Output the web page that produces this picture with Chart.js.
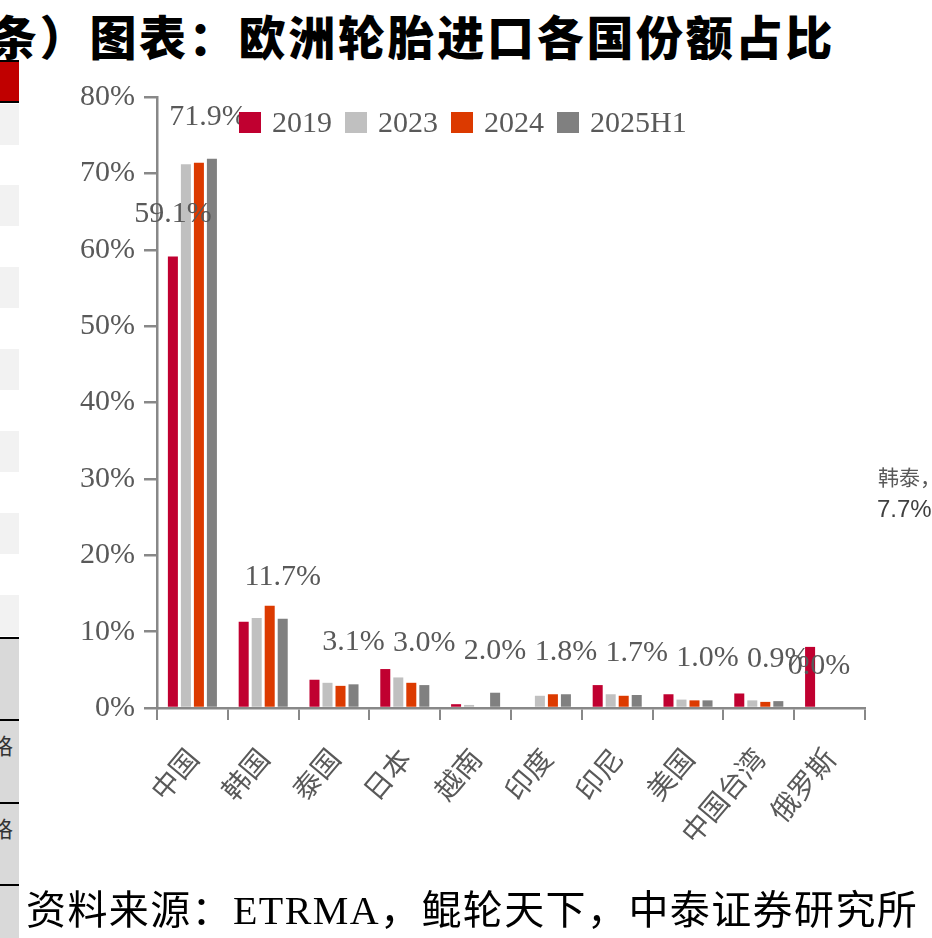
<!DOCTYPE html>
<html>
<head>
<meta charset="utf-8">
<script src="https://cdn.jsdelivr.net/npm/chart.js@4.4.1/dist/chart.umd.min.js"></script>
<style>
  html, body { margin: 0; padding: 0; background: #fff; }
  body { width: 932px; height: 938px; position: relative; overflow: hidden; }
  #title {
    position: absolute; left: -10px; top: 0px; white-space: nowrap;
    font: 900 47px "Noto Sans CJK SC", sans-serif; color: #000; letter-spacing: 2.7px;
  }
  #source {
    position: absolute; left: 26px; top: 878px; white-space: nowrap;
    font: 40px "Liberation Serif", "Noto Sans CJK SC", serif; color: #000; letter-spacing: 1.4px;
  }
  #side { position: absolute; left: 0; top: 0; width: 19px; height: 938px; overflow: hidden; }
  #side div { position: absolute; left: 0; width: 19px; }
  .light { background: #f2f2f2; height: 41px; }
  .line { background: #000; height: 2px; }
  .ch { font: 22px "Noto Sans CJK SC", sans-serif; color: #333; left: -9px !important; width: 40px !important; }
  #chart-box { position: absolute; left: 0; top: 0; width: 932px; height: 938px; }
  #frag1 { position: absolute; left: 878px; top: 461px; font: 21px "Noto Sans CJK SC", serif; color: #595959; white-space: nowrap; }
  #frag2 { position: absolute; left: 877px; top: 495px; font: 24px "Liberation Sans", Arial, sans-serif; color: #404040; white-space: nowrap; }
</style>
</head>
<body>
<div id="side">
  <div style="top:60px;height:43px;background:#c00000;border-top:2px solid #000;border-bottom:2px solid #000;box-sizing:border-box;"></div>
  <div class="light" style="top:104px"></div>
  <div class="light" style="top:185px"></div>
  <div class="light" style="top:267px"></div>
  <div class="light" style="top:349px"></div>
  <div class="light" style="top:431px"></div>
  <div class="light" style="top:513px"></div>
  <div class="light" style="top:595px"></div>
  <div style="top:638px;height:300px;background:#d9d9d9"></div>
  <div class="line" style="top:637px"></div>
  <div class="line" style="top:719px"></div>
  <div class="line" style="top:802px"></div>
  <div class="line" style="top:884px"></div>
  <div class="ch" style="top:728px">格</div>
  <div class="ch" style="top:811px">格</div>
</div>
<div id="title">条）图表：欧洲轮胎进口各国份额占比</div>
<div id="chart-box"><canvas id="chart" width="932" height="938"></canvas></div>
<div id="frag1">韩泰，</div>
<div id="frag2">7.7%</div>
<div id="source">资料来源：ETRMA，鲲轮天下，中泰证券研究所</div>

<script>
document.addEventListener("DOMContentLoaded", () => {

// ─── Dados ───────────────────────────────────────────────────────────────────

const categories = ["中国", "韩国", "泰国", "日本", "越南", "印度", "印尼", "美国", "中国台湾", "俄罗斯"];
const seriesNames = ["2019", "2023", "2024", "2025H1"];

const v2019   = [59.1, 11.3, 3.7, 5.1, 0.5, 0.0, 3.0, 1.8, 1.9, 8.0];
const v2023   = [71.2, 11.8, 3.3, 4.0, 0.4, 1.6, 1.8, 1.1, 1.0, 0.0];
const v2024   = [71.4, 13.4, 2.9, 3.3, 0.0, 1.8, 1.6, 1.0, 0.8, 0.0];
const v2025H1 = [71.9, 11.7, 3.1, 3.0, 2.0, 1.8, 1.7, 1.0, 0.9, 0.0];

const yTicks = [0, 10, 20, 30, 40, 50, 60, 70, 80];

const colors = ["#c00030", "#c0c0c0", "#dc3a00", "#808080"];

// rótulos de valor mostrados (série, categoria)
const shownLabels = [
  { ds: 0, idx: 0 },
  ...categories.map((_, i) => ({ ds: 3, idx: i })),
];

// ─── Plugins ────────────────────────────────────────────────────────────────

const SERIF = '"Liberation Serif", "Times New Roman", serif';
const GREY  = "#595959";

const valueLabels = {
  id: "valueLabels",
  afterDatasetsDraw(chart) {
    const ctx = chart.ctx;
    ctx.save();
    ctx.font = "30px " + SERIF;
    ctx.fillStyle = GREY;
    ctx.textAlign = "center";
    ctx.textBaseline = "middle";
    shownLabels.forEach(({ ds, idx }) => {
      const bar = chart.getDatasetMeta(ds).data[idx];
      const val = chart.data.datasets[ds].data[idx];
      let dx = 0;
      if (ds === 3 && idx === 0) dx = -4;
      if (idx === categories.length - 1) dx = -30;
      ctx.fillText(val.toFixed(1) + "%", bar.x + dx, bar.y - 42);
    });
    ctx.restore();
  }
};

const legendInside = {
  id: "legendInside",
  afterDraw(chart) {
    const ctx = chart.ctx;
    ctx.save();
    ctx.font = "30px " + SERIF;
    ctx.textBaseline = "middle";
    let x = 239;
    const y = 123;
    chart.data.datasets.forEach(ds => {
      ctx.fillStyle = ds.backgroundColor;
      ctx.fillRect(x, y - 11, 22, 21);
      x += 33;
      ctx.fillStyle = GREY;
      ctx.fillText(ds.label, x, y + 1);
      x += ctx.measureText(ds.label).width + 13;
    });
    ctx.restore();
  }
};

// ─── Gráfico ────────────────────────────────────────────────────────────────

const allSeries = [v2019, v2023, v2024, v2025H1];

new Chart(document.getElementById("chart"), {
  type: "bar",
  data: {
    labels: categories,
    datasets: allSeries.map((vals, i) => ({
      label: seriesNames[i],
      data: vals,
      backgroundColor: colors[i],
      categoryPercentage: 0.735,
      barPercentage: 0.77,
    }))
  },
  options: {
    responsive: false,
    animation: false,
    layout: { padding: { top: 97, right: 67, left: 0, bottom: 0 } },
    plugins: {
      legend: { display: false },
      tooltip: { enabled: false },
    },
    scales: {
      x: {
        grid: {
          display: true, offset: true, drawOnChartArea: false, drawTicks: true,
          tickLength: 12, color: "#888", lineWidth: 2,
        },
        border: { display: true, color: "#888", width: 2.5 },
        ticks: {
          color: GREY, font: { size: 28, family: '"Noto Sans CJK SC", sans-serif' },
          maxRotation: 50, minRotation: 50, padding: 22, autoSkip: false,
        },
        afterFit(scale) { scale.height = 230; },
      },
      y: {
        min: 0, max: 80,
        afterBuildTicks(scale) { scale.ticks = yTicks.map(v => ({ value: v })); },
        grid: {
          display: true, drawOnChartArea: false, drawTicks: true,
          tickLength: 13, color: "#888", lineWidth: 2.5,
        },
        border: { display: true, color: "#888", width: 2.5 },
        ticks: {
          color: GREY, font: { size: 30, family: SERIF }, padding: 9,
          callback: v => v + "%",
        },
        afterFit(scale) { scale.width = 157; },
      }
    }
  },
  plugins: [valueLabels, legendInside]
});

}); // DOMContentLoaded
</script>
</body>
</html>
